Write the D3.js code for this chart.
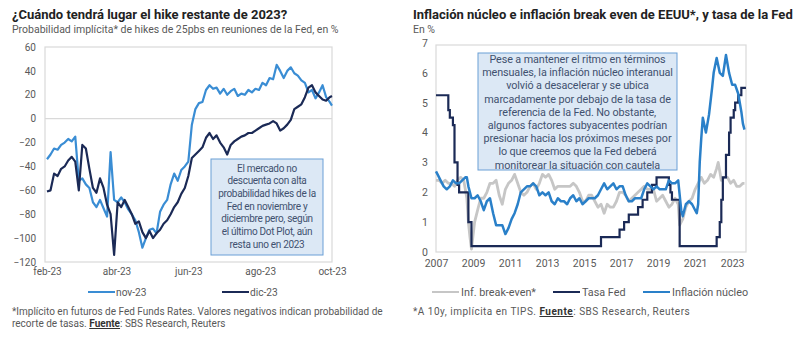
<!DOCTYPE html>
<html>
<head>
<meta charset="utf-8">
<script src="https://d3js.org/d3.v7.min.js"></script>
<style>
  body { margin: 0; background: #fff; }
  svg { font-family: Roboto, "Liberation Sans", Arial, sans-serif; }
</style>
</head>
<body>
<script>
// ---- left chart data: implied probability of 25bp hikes (%) ----
var hikeDates = ["2023-02-01","2023-02-04","2023-02-07","2023-02-10","2023-02-13","2023-02-16","2023-02-19","2023-02-22","2023-02-25","2023-02-28",
  "2023-03-03","2023-03-06","2023-03-09","2023-03-12","2023-03-15","2023-03-18","2023-03-21","2023-03-24","2023-03-27","2023-03-30",
  "2023-04-02","2023-04-05","2023-04-08","2023-04-11","2023-04-14","2023-04-17","2023-04-20","2023-04-23","2023-04-26","2023-04-29",
  "2023-05-02","2023-05-05","2023-05-08","2023-05-11","2023-05-14","2023-05-17","2023-05-20","2023-05-23","2023-05-26","2023-05-29",
  "2023-06-01","2023-06-04","2023-06-07","2023-06-10","2023-06-13","2023-06-16","2023-06-19","2023-06-22","2023-06-25","2023-06-28",
  "2023-07-01","2023-07-04","2023-07-07","2023-07-10","2023-07-13","2023-07-16","2023-07-19","2023-07-22","2023-07-25","2023-07-28","2023-07-31",
  "2023-08-03","2023-08-06","2023-08-09","2023-08-12","2023-08-15","2023-08-18","2023-08-21","2023-08-24","2023-08-27","2023-08-30",
  "2023-09-02","2023-09-05","2023-09-08","2023-09-11","2023-09-14","2023-09-17","2023-09-20","2023-09-23","2023-09-26","2023-09-29","2023-10-01"];
var nov23 = [-34,-30,-25,-26,-22,-20,-17,-19,-15,-52,
  -50,-55,-58,-70,-74,-68,-75,-82,-28,-68,
  -70,-66,-70,-76,-80,-85,-95,-108,-100,-93,
  -92,-96,-78,-72,-68,-55,-46,-52,-43,-40,
  -36,-5,8,13,14,24,28,25,26,21,
  25,20,23,25,19,21,20,24,22,25,24,
  30,28,34,33,45,40,34,40,43,38,
  36,32,30,22,24,17,22,28,18,14,11];
var dic23 = [-61,-60,-46,-48,-42,-40,-35,-32,-36,-60,
  -22,-25,-42,-58,-62,-50,-58,-72,-80,-114,
  -70,-74,-68,-74,-80,-88,-86,-95,-100,-94,
  -100,-96,-93,-88,-85,-80,-74,-70,-63,-58,
  -48,-33,-30,-27,-24,-16,-12,-17,-14,-20,
  -24,-30,-22,-19,-17,-15,-14,-12,-12,-10,-8,
  -6,-5,-4,-2,-4,-10,-8,-5,-1,8,
  10,12,18,26,28,22,19,16,15,18,19];
var leftTicksY = [60,40,20,0,-20,-40,-60,-80,-100,-120];
var leftTickDates = ["2023-02-01","2023-04-01","2023-06-01","2023-08-01","2023-10-01"];
var leftTickLabels = ["feb-23","abr-23","jun-23","ago-23","oct-23"];

// ---- right chart data (%): [date, value] ----
var breakEven = [["2007-01",2.4],["2007-03",2.4],["2007-05",2.3],["2007-07",2.4],["2007-09",2.3],["2007-11",2.3],
  ["2008-01",2.2],["2008-03",2.4],["2008-05",2.5],["2008-07",2.4],["2008-09",1.8],["2008-10",1.0],["2008-11",0.5],["2008-12",0.1],
  ["2009-02",1.0],["2009-04",1.4],["2009-06",1.8],["2009-08",1.8],["2009-10",2.0],["2009-12",2.3],
  ["2010-02",2.3],["2010-04",2.4],["2010-06",1.9],["2010-08",1.6],["2010-10",2.1],["2010-12",2.3],
  ["2011-02",2.4],["2011-04",2.6],["2011-06",2.3],["2011-08",2.0],["2011-10",1.9],["2011-12",2.0],
  ["2012-02",2.2],["2012-04",2.3],["2012-06",2.1],["2012-08",2.3],["2012-10",2.6],["2012-12",2.5],
  ["2013-02",2.6],["2013-04",2.4],["2013-06",2.1],["2013-08",2.2],["2013-10",2.2],["2013-12",2.2],
  ["2014-02",2.2],["2014-04",2.2],["2014-06",2.3],["2014-08",2.2],["2014-10",2.0],["2014-12",1.7],
  ["2015-02",1.7],["2015-04",1.9],["2015-06",1.9],["2015-08",1.7],["2015-10",1.5],["2015-12",1.6],
  ["2016-02",1.3],["2016-04",1.6],["2016-06",1.5],["2016-08",1.5],["2016-10",1.7],["2016-12",2.0],
  ["2017-02",2.0],["2017-04",1.9],["2017-06",1.7],["2017-08",1.8],["2017-10",1.9],["2017-12",2.0],
  ["2018-02",2.1],["2018-04",2.2],["2018-06",2.1],["2018-08",2.1],["2018-10",2.1],["2018-12",1.7],
  ["2019-02",1.8],["2019-04",1.9],["2019-06",1.7],["2019-08",1.5],["2019-10",1.6],["2019-12",1.8],
  ["2020-02",1.6],["2020-03",0.9],["2020-05",1.1],["2020-07",1.5],["2020-09",1.7],["2020-11",1.8],
  ["2021-01",2.1],["2021-03",2.3],["2021-05",2.5],["2021-07",2.3],["2021-09",2.4],["2021-11",2.6],
  ["2022-01",2.5],["2022-03",2.8],["2022-04",3.0],["2022-06",2.4],["2022-08",2.5],["2022-10",2.5],["2022-12",2.3],
  ["2023-02",2.4],["2023-04",2.2],["2023-06",2.2],["2023-08",2.3],["2023-09",2.3]];
var fedRate = [["2007-01",5.25],["2007-09",4.75],["2007-10",4.5],["2007-12",4.25],["2008-01",3.0],["2008-03",2.25],["2008-04",2.0],
  ["2008-10",1.0],["2008-12",0.2],["2015-12",0.5],["2016-12",0.75],["2017-03",1.0],["2017-06",1.25],["2017-12",1.5],
  ["2018-03",1.75],["2018-06",2.0],["2018-09",2.25],["2018-12",2.5],["2019-08",2.25],["2019-09",2.0],["2019-10",1.75],
  ["2020-03",0.2],["2022-03",0.5],["2022-05",1.0],["2022-06",1.75],["2022-07",2.5],["2022-09",3.25],["2022-11",4.0],
  ["2022-12",4.5],["2023-02",4.75],["2023-03",5.0],["2023-05",5.25],["2023-07",5.5],["2023-09-30",5.5]];
var coreInfl = [["2007-01",2.7],["2007-02",2.6],["2007-04",2.4],["2007-06",2.2],["2007-08",2.1],["2007-10",2.2],["2007-12",2.4],
  ["2008-02",2.3],["2008-04",2.3],["2008-06",2.4],["2008-08",2.5],["2008-09",2.5],["2008-10",2.2],["2008-12",1.8],
  ["2009-02",1.8],["2009-04",1.9],["2009-06",1.7],["2009-08",1.4],["2009-10",1.7],["2009-12",1.8],
  ["2010-02",1.3],["2010-04",0.9],["2010-06",0.9],["2010-08",0.9],["2010-10",0.6],["2010-12",0.8],
  ["2011-02",1.1],["2011-04",1.3],["2011-06",1.6],["2011-08",2.0],["2011-10",2.1],["2011-12",2.2],
  ["2012-02",2.2],["2012-04",2.3],["2012-06",2.2],["2012-08",1.9],["2012-10",2.0],["2012-12",1.9],
  ["2013-02",2.0],["2013-04",1.7],["2013-06",1.6],["2013-08",1.8],["2013-10",1.7],["2013-12",1.7],
  ["2014-02",1.6],["2014-04",1.8],["2014-06",1.9],["2014-08",1.7],["2014-10",1.8],["2014-12",1.6],
  ["2015-02",1.7],["2015-04",1.8],["2015-06",1.8],["2015-08",1.8],["2015-10",1.9],["2015-12",2.1],
  ["2016-02",2.3],["2016-04",2.1],["2016-06",2.2],["2016-08",2.3],["2016-10",2.1],["2016-12",2.2],
  ["2017-02",2.2],["2017-04",1.9],["2017-06",1.7],["2017-08",1.7],["2017-10",1.8],["2017-12",1.8],
  ["2018-02",1.8],["2018-04",2.1],["2018-06",2.3],["2018-08",2.2],["2018-10",2.1],["2018-12",2.2],
  ["2019-02",2.1],["2019-04",2.1],["2019-06",2.1],["2019-08",2.4],["2019-10",2.3],["2019-12",2.3],
  ["2020-02",2.4],["2020-04",1.4],["2020-05",1.2],["2020-07",1.6],["2020-09",1.7],["2020-11",1.6],
  ["2021-01",1.4],["2021-02",1.3],["2021-03",1.6],["2021-04",3.0],["2021-05",3.8],["2021-06",4.5],["2021-08",4.0],
  ["2021-10",4.6],["2021-12",5.5],["2022-01",6.0],["2022-03",6.5],["2022-05",6.0],["2022-07",5.9],["2022-09",6.6],
  ["2022-11",6.0],["2023-01",5.6],["2023-03",5.6],["2023-05",5.3],["2023-07",4.7],["2023-08",4.3],["2023-09",4.1]];
var rightTicksY = [0,1,2,3,4,5,6,7];
var rightTickYears = [2007,2009,2011,2013,2015,2017,2019,2021,2023];

var leftNote = ["El mercado no","descuenta con alta","probabilidad hikes de la","Fed en noviembre y",
  "diciembre pero, según","el último Dot Plot, aún","resta uno en 2023"];
var rightNote = ["Pese a mantener el ritmo en términos","mensuales, la inflación núcleo interanual",
  "volvió  a desacelerar y se ubica","marcadamente por debajo de la tasa de","referencia de la Fed. No obstante,",
  "algunos factores subyacentes podrían","presionar hacia los próximos meses por","lo que creemos que la Fed deberá",
  "monitorear la situación con cautela"];

var cLight = "#3a8dd4", cNavy = "#1b2a56", cGray = "#c6c6c6", cCore = "#2a80c9";
var txtGray = "#595959";

var svg = d3.select("body").append("svg").attr("width", 800).attr("height", 343);
var parseD = d3.timeParse("%Y-%m-%d"), parseM = d3.timeParse("%Y-%m");
function pd(s) { return s.length > 7 ? parseD(s) : parseM(s); }

// titles
svg.append("text").attr("x", 12).attr("y", 19).attr("font-size", 13).attr("font-weight", "bold")
  .attr("fill", "#222").text("¿Cuándo tendrá lugar el hike restante de 2023?");
svg.append("text").attr("x", 12).attr("y", 33).attr("font-size", 10.5).attr("fill", txtGray)
  .text("Probabilidad implícita* de hikes de 25pbs en reuniones de la Fed, en %");
svg.append("text").attr("x", 413).attr("y", 19).attr("font-size", 13).attr("font-weight", "bold")
  .attr("fill", "#222").text("Inflación núcleo e inflación break even de EEUU*, y tasa de la Fed");
svg.append("text").attr("x", 413).attr("y", 33).attr("font-size", 10.5).attr("fill", txtGray).text("En %");

// ---------- left chart ----------
var x1 = d3.scaleTime().domain([parseD("2023-02-01"), parseD("2023-10-01")]).range([47, 332]);
var y1 = d3.scaleLinear().domain([-120, 60]).range([262, 47]);
var g1 = svg.append("g");
g1.append("rect").attr("x", 45).attr("y", 47).attr("width", 287).attr("height", 215)
  .attr("fill", "none").attr("stroke", "#d9d9d9").attr("stroke-width", 1.2);
g1.append("line").attr("x1", 45).attr("x2", 332).attr("y1", y1(0)).attr("y2", y1(0))
  .attr("stroke", "#d9d9d9").attr("stroke-width", 1.2);

var ax1 = g1.append("g").attr("transform", "translate(36,0)")
  .call(d3.axisLeft(y1).tickValues(leftTicksY).tickSize(0).tickPadding(0));
ax1.select(".domain").remove();
ax1.selectAll("text").attr("fill", txtGray).attr("font-size", 10).attr("font-family", "Roboto, sans-serif");

var bx1 = g1.append("g").attr("transform", "translate(0,268)")
  .call(d3.axisBottom(x1).tickValues(leftTickDates.map(parseD)).tickSize(0).tickPadding(0)
    .tickFormat(function(d, i) { return leftTickLabels[i]; }));
bx1.select(".domain").remove();
bx1.selectAll("text").attr("fill", txtGray).attr("font-size", 10).attr("font-family", "Roboto, sans-serif");

var line1 = d3.line().x(function(d) { return x1(d[0]); }).y(function(d) { return y1(d[1]); });
var novData = hikeDates.map(function(d, i) { return [parseD(d), nov23[i]]; });
var dicData = hikeDates.map(function(d, i) { return [parseD(d), dic23[i]]; });
g1.append("path").datum(novData).attr("d", line1).attr("fill", "none")
  .attr("stroke", cLight).attr("stroke-width", 2.2).attr("stroke-linejoin", "round");
g1.append("path").datum(dicData).attr("d", line1).attr("fill", "none")
  .attr("stroke", cNavy).attr("stroke-width", 2.2).attr("stroke-linejoin", "round");

// left annotation
g1.append("rect").attr("x", 211).attr("y", 159).attr("width", 112).attr("height", 96)
  .attr("fill", "#dce8f5").attr("stroke", "#6a9fd6").attr("stroke-width", 1);
g1.selectAll(".ln1").data(leftNote).enter().append("text")
  .attr("x", 267).attr("y", function(d, i) { return 171.5 + i * 12.7; })
  .attr("text-anchor", "middle").attr("font-size", 10).attr("letter-spacing", -0.3)
  .attr("fill", "#41516f").text(function(d) { return d; });

// left legend
var leg1 = [["nov-23", cLight, 88], ["dic-23", cNavy, 222]];
leg1.forEach(function(l) {
  svg.append("line").attr("x1", l[2]).attr("x2", l[2] + 27).attr("y1", 292).attr("y2", 292)
    .attr("stroke", l[1]).attr("stroke-width", 2);
  svg.append("text").attr("x", l[2] + 28).attr("y", 295.5).attr("font-size", 10.2)
    .attr("fill", txtGray).text(l[0]);
});

// left footnote
var fn1 = svg.append("text").attr("x", 12).attr("y", 315).attr("font-size", 10).attr("fill", txtGray);
fn1.text("*Implícito en futuros de Fed Funds Rates. Valores negativos indican probabilidad de");
var fn1b = svg.append("text").attr("x", 12).attr("y", 327).attr("font-size", 10).attr("fill", txtGray);
fn1b.append("tspan").text("recorte de tasas. ");
fn1b.append("tspan").attr("font-weight", "bold").attr("fill", "#333").attr("text-decoration", "underline").text("Fuente");
fn1b.append("tspan").text(": SBS Research, Reuters");

// ---------- right chart ----------
var x2 = d3.scaleTime().domain([parseD("2007-01-01"), parseD("2023-10-01")]).range([436, 746]);
var y2 = d3.scaleLinear().domain([0, 7]).range([252, 43]);
var g2 = svg.append("g");
g2.append("rect").attr("x", 436).attr("y", 45).attr("width", 310).attr("height", 207)
  .attr("fill", "none").attr("stroke", "#d9d9d9").attr("stroke-width", 1.2);

var ax2 = g2.append("g").attr("transform", "translate(428,0)")
  .call(d3.axisLeft(y2).tickValues(rightTicksY).tickSize(0).tickPadding(0).tickFormat(d3.format("d")));
ax2.select(".domain").remove();
ax2.selectAll("text").attr("fill", txtGray).attr("font-size", 10.5).attr("font-family", "Roboto, sans-serif");

var bx2 = g2.append("g").attr("transform", "translate(0,260)")
  .call(d3.axisBottom(x2).tickValues(rightTickYears.map(function(y) { return new Date(y, 0, 1); }))
    .tickSize(0).tickPadding(0).tickFormat(d3.timeFormat("%Y")));
bx2.select(".domain").remove();
bx2.selectAll("text").attr("fill", txtGray).attr("font-size", 10.5).attr("font-family", "Roboto, sans-serif");

var line2 = d3.line().x(function(d) { return x2(pd(d[0])); }).y(function(d) { return y2(d[1]); });
var step2 = d3.line().curve(d3.curveStepAfter).x(function(d) { return x2(pd(d[0])); }).y(function(d) { return y2(d[1]); });
g2.append("path").datum(breakEven).attr("d", line2).attr("fill", "none")
  .attr("stroke", cGray).attr("stroke-width", 2.8).attr("stroke-linejoin", "round");
g2.append("path").datum(fedRate).attr("d", step2).attr("fill", "none")
  .attr("stroke", cNavy).attr("stroke-width", 2.2);
g2.append("path").datum(coreInfl).attr("d", line2).attr("fill", "none")
  .attr("stroke", cCore).attr("stroke-width", 2.5).attr("stroke-linejoin", "round");

// right annotation
g2.append("rect").attr("x", 478).attr("y", 53).attr("width", 199).attr("height", 117)
  .attr("fill", "#dce8f5").attr("stroke", "#6a9fd6").attr("stroke-width", 1);
g2.selectAll(".ln2").data(rightNote).enter().append("text")
  .attr("x", 577.5).attr("y", function(d, i) { return 63 + i * 13.2; })
  .attr("text-anchor", "middle").attr("font-size", 10.8).attr("letter-spacing", -0.1)
  .attr("fill", "#41516f").text(function(d) { return d; });

// right legend
var leg2 = [["Inf. break-even*", cGray, 432], ["Tasa Fed", cNavy, 553], ["Inflación núcleo", cCore, 643]];
leg2.forEach(function(l) {
  svg.append("line").attr("x1", l[2]).attr("x2", l[2] + 27).attr("y1", 292).attr("y2", 292)
    .attr("stroke", l[1]).attr("stroke-width", 2);
  svg.append("text").attr("x", l[2] + 29).attr("y", 295.5).attr("font-size", 10.8)
    .attr("fill", txtGray).text(l[0]);
});

var fn2 = svg.append("text").attr("x", 413).attr("y", 315).attr("font-size", 10).attr("letter-spacing", 0.5)
  .attr("fill", txtGray);
fn2.append("tspan").text("*A 10y, implícita en TIPS. ");
fn2.append("tspan").attr("font-weight", "bold").attr("fill", "#333").attr("text-decoration", "underline").text("Fuente");
fn2.append("tspan").text(": SBS Research, Reuters");
</script>
</body>
</html>
